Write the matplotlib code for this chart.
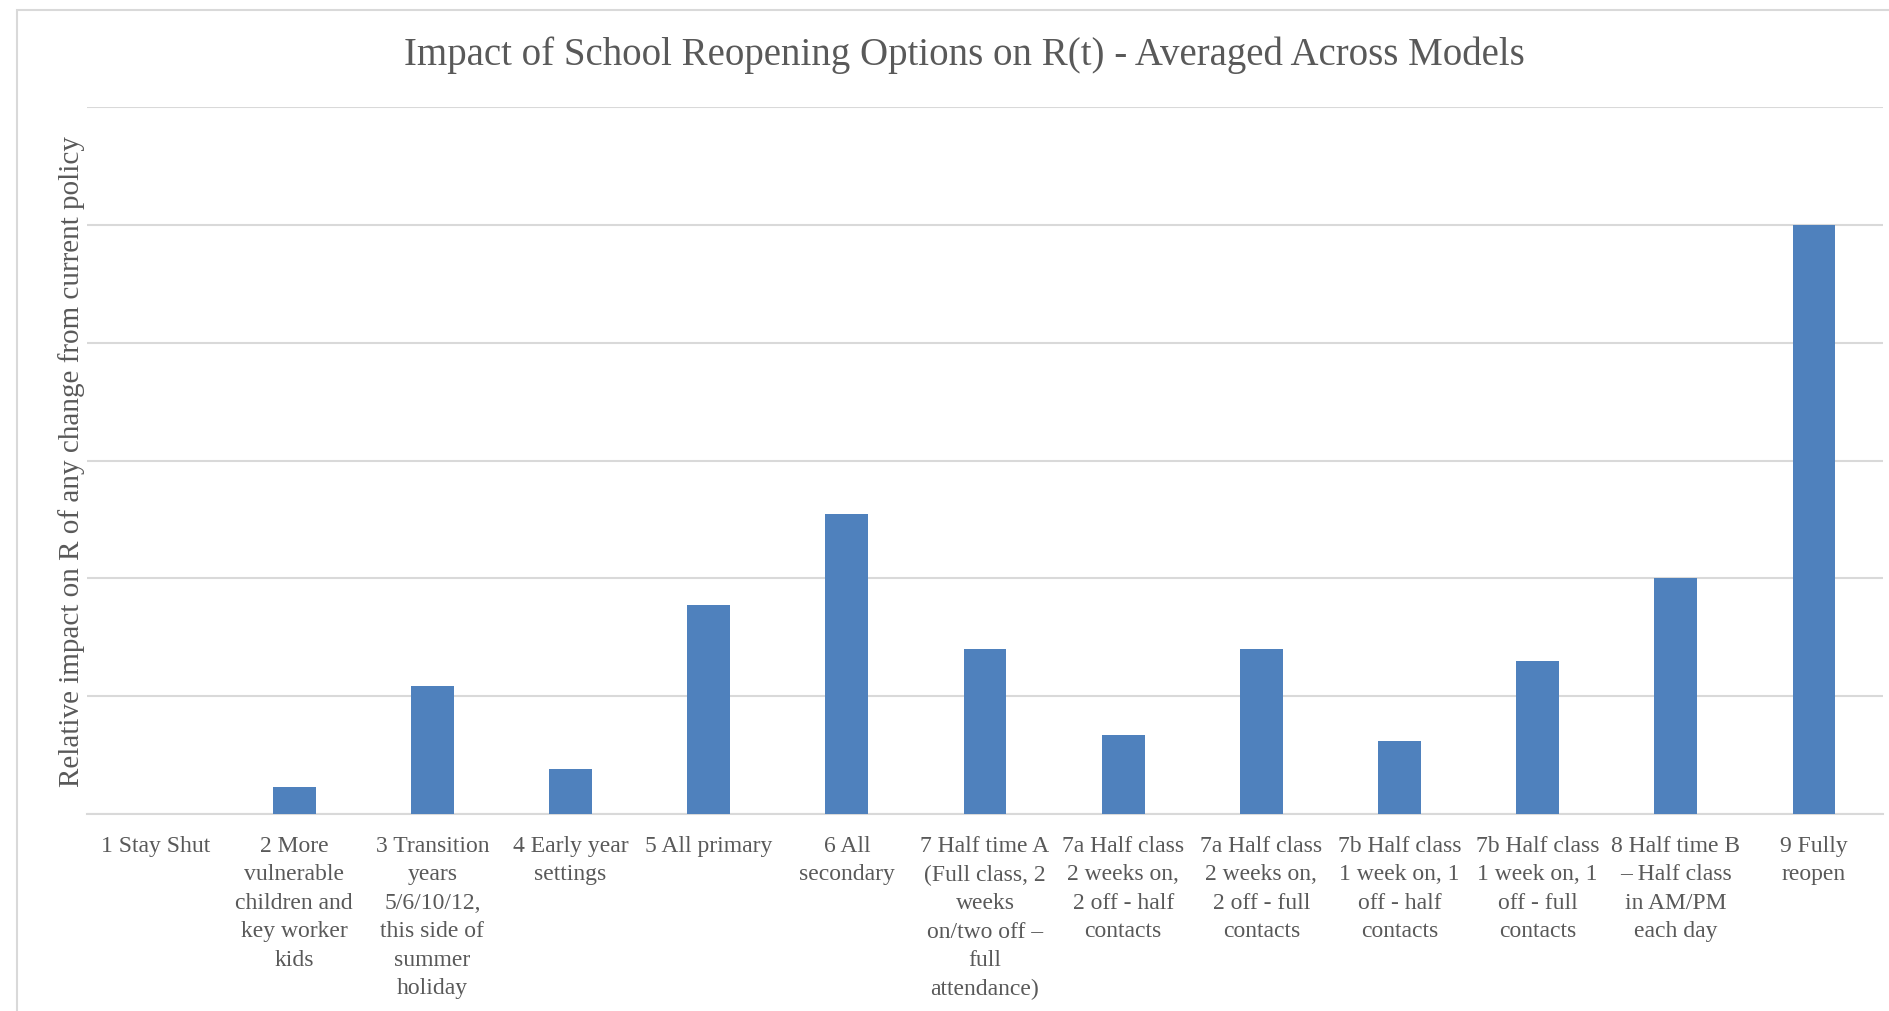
import matplotlib.pyplot as plt
from matplotlib.patches import Rectangle

options = [
    '1 Stay Shut',
    '2 More\nvulnerable\nchildren and\nkey worker\nkids',
    '3 Transition\nyears\n5/6/10/12,\nthis side of\nsummer\nholiday',
    '4 Early year\nsettings',
    '5 All primary',
    '6 All\nsecondary',
    '7 Half time A\n(Full class, 2\nweeks\non/two off –\nfull\nattendance)',
    '7a Half class\n2 weeks on,\n2 off - half\ncontacts',
    '7a Half class\n2 weeks on,\n2 off - full\ncontacts',
    '7b Half class\n1 week on, 1\noff - half\ncontacts',
    '7b Half class\n1 week on, 1\noff - full\ncontacts',
    '8 Half time B\n– Half class\nin AM/PM\neach day',
    '9 Fully\nreopen',
]

# relative impact (gridlines at each unit)
impact = [0.0, 0.23, 1.09, 0.38, 1.77, 2.55, 1.40, 0.67, 1.40, 0.62, 1.30, 2.0, 5.0]

text_color = '#595959'
grid_color = '#d9d9d9'

plt.rcParams['font.family'] = ['Liberation Serif', 'DejaVu Serif']

fig = plt.figure(figsize=(18.9, 10.12), dpi=100)
ax = fig.add_axes([87 / 1890, 1 - 815 / 1012, (1883 - 87) / 1890, (815 - 108) / 1012])

x = range(len(options))
ax.bar(x, impact, width=0.31, color='#4f81bd', zorder=3)

ax.set_xlim(-0.5, len(options) - 0.5)
ax.set_ylim(0, 6)
ax.set_yticks(range(0, 7))
ax.set_yticklabels([])
ax.yaxis.grid(True, color=grid_color, linewidth=1.5, zorder=0)
ax.tick_params(axis='both', length=0)
ax.tick_params(axis='x', pad=15)
ax.set_xticks(list(x))
ax.set_xticklabels(options, fontsize=17, color=text_color, linespacing=1.47)

for side in ['top', 'right', 'left']:
    ax.spines[side].set_visible(False)
ax.spines['bottom'].set_color(grid_color)
ax.spines['bottom'].set_linewidth(1.5)

ax.set_ylabel('Relative impact on R of any change from current policy',
              fontsize=21, color=text_color, labelpad=-2)
fig.text(0.51, 1 - 55 / 1012, 'Impact of School Reopening Options on R(t) - Averaged Across Models',
         fontsize=28, color=text_color, ha='center', va='center')

# chart frame
fig.add_artist(Rectangle((17 / 1890, -0.05), 1.2, 1.05 - 11 / 1012,
                         transform=fig.transFigure, fill=False,
                         edgecolor=grid_color, linewidth=1.5))

plt.savefig('out.png')
